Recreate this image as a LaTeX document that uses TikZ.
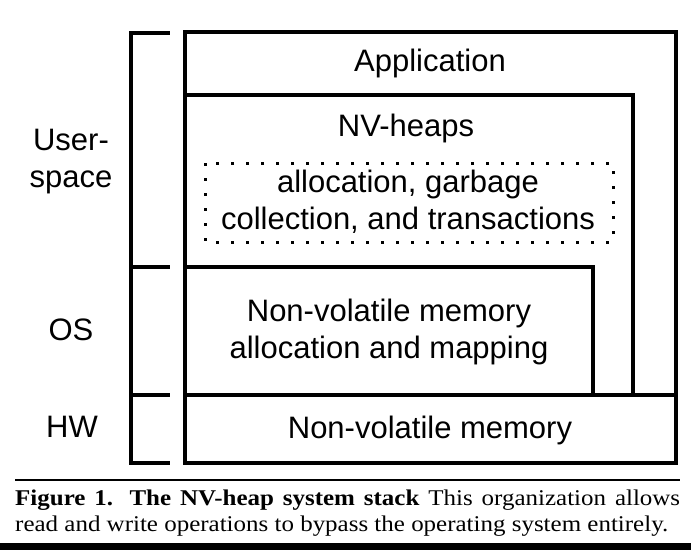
\documentclass[tikz,border=0pt]{standalone}
\usepackage{fontspec}
\setmainfont{Liberation Sans}
\newfontfamily\capfont[FakeStretch=1.11]{Liberation Serif}

\tikzset{
  layer/.style={line width=4pt, line cap=rect},
  lbl/.style={font=\fontsize{31}{37}\selectfont, align=center, inner sep=0pt},
  dotbox/.style={line width=3pt, dash pattern=on 3pt off 12pt}
}

\begin{document}
\begin{tikzpicture}[x=1pt,y=-1pt]
\useasboundingbox (0,0) rectangle (691,554);
% stack of layers
\draw [layer] (185,32) rectangle (676,463);
\draw [layer] (185,95) -- (633,95) -- (633,395);
\draw [layer] (185,267) -- (593,267) -- (593,395);
\draw [layer] (185,395) -- (676,395);
\draw [dotbox] (205,163) rectangle (613,242);
% bracket on the left
\draw [layer] (168,33) -- (131,33) -- (131,463) -- (168,463);
\draw [layer] (131,267) -- (168,267);
\draw [layer] (131,395) -- (168,395);

\node [lbl] (app) at (430,63) {Application};
\node [lbl] (nvh) at (406,128) {NV-heaps};
\node [lbl] (gc) at (408,202) {allocation, garbage\\collection, and transactions};
\node [lbl] (nvalloc) at (389,332) {Non-volatile memory\\allocation and mapping};
\node [lbl] (nvm) at (430,430) {Non-volatile memory};

\node [lbl] (user) at (71,162) {User-\\space};
\node [lbl] (os) at (71,330) {OS};
\node [lbl] (hw) at (72,427) {HW};

% caption
\draw [line width=1.5pt] (15,480) -- (680,480);
\node [anchor=north west, inner sep=0pt, text width=665pt, align=justify,
  font=\capfont\fontsize{22.5}{26}\selectfont] (cap) at (15,490)
  {\textbf{Figure 1. The NV-heap system stack} This organization allows\linebreak read and write operations to bypass the operating system entirely.};
\fill (0,543) rectangle (691,550);
\end{tikzpicture}
\end{document}
